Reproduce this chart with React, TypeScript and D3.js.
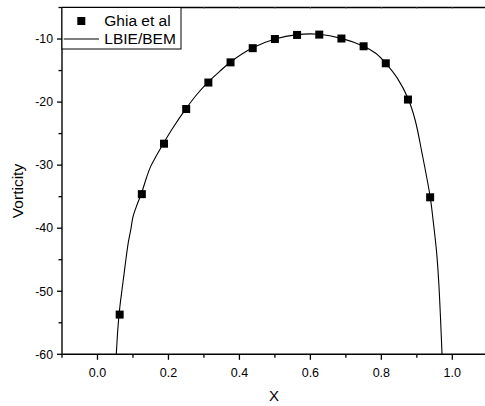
import React from "react";
import * as d3 from "d3";

const ghiaX = [0.0625, 0.125, 0.1875, 0.25, 0.3125, 0.375, 0.4375, 0.5, 0.5625, 0.625, 0.6875, 0.75, 0.8125, 0.875, 0.9375];
const ghiaY = [-53.7, -34.6, -26.6, -21.1, -16.9, -13.7, -11.45, -10.0, -9.35, -9.3, -9.92, -11.15, -13.85, -19.6, -35.1];

const bemX = [0.053, 0.058, 0.063, 0.069, 0.075, 0.080, 0.087, 0.094, 0.100, 0.112, 0.125, 0.138, 0.150, 0.165, 0.1875, 0.21, 0.25, 0.28, 0.3125, 0.345, 0.375, 0.4375, 0.5, 0.5625, 0.625, 0.6875, 0.75, 0.785, 0.8125, 0.845, 0.875, 0.895, 0.915, 0.9375, 0.946, 0.956, 0.962, 0.967, 0.971];
const bemY = [-60, -55.5, -52.5, -49.8, -47.2, -45.0, -42.2, -40.2, -38.2, -36.2, -34.3, -32.0, -30.2, -28.6, -26.4, -24.3, -21.0, -18.8, -16.8, -15.1, -13.65, -11.4, -10.0, -9.3, -9.25, -9.9, -11.15, -12.3, -13.85, -16.2, -19.4, -22.8, -28.2, -35.0, -38.8, -44.0, -48.8, -54.6, -60];

const xMajor = [0.0, 0.2, 0.4, 0.6, 0.8, 1.0];
const xMinor = [-0.1, 0.1, 0.3, 0.5, 0.7, 0.9, 1.1];
const yMajor = [-60, -50, -40, -30, -20, -10];
const yMinor = [-55, -45, -35, -25, -15, -5];

const legendLabels = ["Ghia et al", "LBIE/BEM"];

export default function App() {
  const W = 485, H = 406;
  const left = 62, right = 487.8, top = 7.5, bottom = 354.3;
  const x = d3.scaleLinear().domain([-0.1, 1.1]).range([left, right]);
  const y = d3.scaleLinear().domain([-60, -5]).range([bottom, top]);
  const pts = bemX.map((v, i) => [v, bemY[i]] as [number, number]);
  const line = d3.line<[number, number]>().x(d => x(d[0])).y(d => y(d[1])).curve(d3.curveCatmullRom.alpha(0.5));
  const font = "'Liberation Sans', Arial, sans-serif";
  const ms = 8;
  return (
    <svg width={W} height={H} style={{ position: "absolute", left: 0, top: 0, background: "#fff" }} fontFamily={font}>
      <rect x={0} y={0} width={W} height={H} fill="#fff" />
      <defs>
        <clipPath id="plot">
          <rect x={left} y={top} width={right - left} height={bottom - top} />
        </clipPath>
      </defs>
      <g clipPath="url(#plot)">
        <path d={line(pts) || ""} fill="none" stroke="#000" strokeWidth={1.1} />
      </g>
      {ghiaX.map((v, i) => (
        <rect key={i} x={x(v) - ms / 2} y={y(ghiaY[i]) - ms / 2} width={ms} height={ms} fill="#000" />
      ))}
      <line x1={left} x2={W} y1={top} y2={top} stroke="#000" strokeWidth={1.5} />
      <line x1={left} x2={W} y1={bottom} y2={bottom} stroke="#000" strokeWidth={1.5} />
      <line x1={left} x2={left} y1={top} y2={bottom} stroke="#222" strokeWidth={1.6} />
      {xMajor.map(v => (
        <g key={"xm" + v}>
          <line x1={x(v)} x2={x(v)} y1={bottom} y2={bottom + 5.5} stroke="#000" strokeWidth={1.3} />
          <line x1={x(v)} x2={x(v)} y1={top} y2={top + 1.5} stroke="#888" strokeWidth={1} />
          <text x={x(v)} y={376.5} textAnchor="middle" fontSize={12.5}>{v.toFixed(1)}</text>
        </g>
      ))}
      {xMinor.map(v => (
        <g key={"xn" + v}>
          <line x1={x(v)} x2={x(v)} y1={bottom} y2={bottom + 3.5} stroke="#000" strokeWidth={1.3} />
          <line x1={x(v)} x2={x(v)} y1={top} y2={top + 1.5} stroke="#888" strokeWidth={1} />
        </g>
      ))}
      {yMajor.map(v => (
        <g key={"ym" + v}>
          <line x1={left - 5} x2={left} y1={y(v)} y2={y(v)} stroke="#000" strokeWidth={1.3} />
          <text x={53} y={y(v)} dy="0.35em" textAnchor="end" fontSize={12.3}>{v}</text>
        </g>
      ))}
      {yMinor.map(v => (
        <line key={"yn" + v} x1={left - 3.5} x2={left} y1={y(v)} y2={y(v)} stroke="#000" strokeWidth={1.3} />
      ))}
      <text x={274} y={400.5} textAnchor="middle" fontSize={15}>X</text>
      <text transform={`translate(22.5,191) rotate(-90)`} textAnchor="middle" fontSize={15.5}>Vorticity</text>
      <rect x={62} y={7.5} width={119} height={41.5} fill="#fff" stroke="#000" strokeWidth={1} />
      <rect x={81.3 - ms / 2} y={21 - ms / 2} width={ms} height={ms} fill="#000" />
      <text x={104.3} y={26.3} fontSize={15.5}>{legendLabels[0]}</text>
      <line x1={63.7} x2={99} y1={39} y2={39} stroke="#000" strokeWidth={1.1} />
      <text x={104.3} y={44.3} fontSize={15.5}>{legendLabels[1]}</text>
    </svg>
  );
}
